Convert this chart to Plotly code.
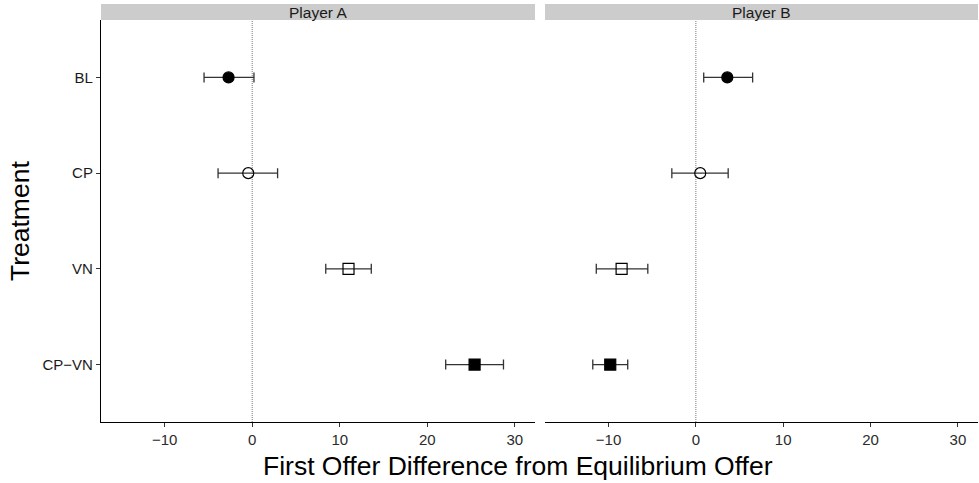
import plotly.graph_objects as go

# Treatment categories (top to bottom as displayed)
treatments = ["BL", "CP", "VN", "CP\u2212VN"]

# Player A: mean difference and confidence bounds
a_mean = [-2.7, -0.45, 11.0, 25.4]
a_low = [-5.5, -3.9, 8.4, 22.1]
a_high = [0.2, 2.9, 13.6, 28.7]

# Player B: mean difference and confidence bounds
b_mean = [3.6, 0.5, -8.5, -9.8]
b_low = [0.9, -2.75, -11.4, -11.8]
b_high = [6.5, 3.7, -5.5, -7.8]

panels = ["Player A", "Player B"]
tick_vals = [-10, 0, 10, 20, 30]

symbols = {"BL": "circle", "CP": "circle-open", "VN": "square-open", "CP\u2212VN": "square"}

FONT = "Liberation Sans, Arial"
W, H = 979, 483
fig = go.Figure()

data = [(a_mean, a_low, a_high), (b_mean, b_low, b_high)]
for p, (mean, low, high) in enumerate(data):
    xa = "x" if p == 0 else "x2"
    for i, t in enumerate(treatments):
        fig.add_trace(go.Scatter(
            x=[mean[i]], y=[t], xaxis=xa, yaxis="y",
            mode="markers",
            marker=dict(symbol=symbols[t], size=11, color="black",
                        line=dict(color="black", width=1.2)),
            error_x=dict(type="data", symmetric=False,
                         array=[high[i] - mean[i]], arrayminus=[mean[i] - low[i]],
                         color="#333333", thickness=1.3, width=5),
            showlegend=False, hoverinfo="skip",
        ))

# pixel -> paper helpers
def px(x):
    return x / W

def py(y):
    return 1 - y / H

top, bottom = 20, 422
ydom = [py(bottom), py(top)]
axis_common = dict(
    range=[-17.27, 32.3], tickvals=tick_vals, ticks="outside", ticklen=4,
    tickcolor="#333333", tickwidth=1, showgrid=False, zeroline=False,
    showline=True, linecolor="black", linewidth=1.2,
    tickfont=dict(family=FONT, size=15, color="#2b2b2b"),
)
fig.update_layout(
    width=W, height=H, margin=dict(l=0, r=0, t=0, b=0),
    plot_bgcolor="white", paper_bgcolor="white",
    xaxis=dict(domain=[px(101), px(535)], anchor="y", **axis_common),
    xaxis2=dict(domain=[px(545), px(978)], anchor="y", **axis_common),
    yaxis=dict(
        domain=ydom, type="category",
        categoryorder="array", categoryarray=treatments[::-1],
        range=[-0.6, 3.6], ticks="outside", ticklen=4, tickcolor="#333333",
        showline=True, linecolor="black", linewidth=1.2, showgrid=False,
        zeroline=False,
        tickfont=dict(family=FONT, size=15, color="#1a1a1a"),
    ),
)

# Zero reference lines in each panel
for xr in ["x", "x2"]:
    fig.add_shape(type="line", xref=xr, yref="paper", x0=0, x1=0,
                  y0=ydom[0], y1=ydom[1],
                  line=dict(color="#777777", width=1, dash="1px,1px"), layer="below")

# Facet strips
strips = [(101, 535), (545, 978)]
for (x0, x1), name in zip(strips, panels):
    fig.add_shape(type="rect", xref="paper", yref="paper",
                  x0=px(x0), x1=px(x1), y0=py(20), y1=py(4),
                  fillcolor="#cccccc", line=dict(width=0))
    fig.add_annotation(x=px((x0 + x1) / 2), y=py(12), xref="paper", yref="paper",
                       text=name, showarrow=False,
                       font=dict(family=FONT, size=15.5, color="#1a1a1a"),
                       xanchor="center", yanchor="middle")

# Axis titles
fig.add_annotation(x=px(518), y=py(466), xref="paper", yref="paper",
                   text="First Offer Difference from Equilibrium Offer",
                   showarrow=False, xanchor="center", yanchor="middle",
                   font=dict(family=FONT, size=26.5, color="black"))
fig.add_annotation(x=px(20), y=py(221), xref="paper", yref="paper",
                   text="Treatment", textangle=-90,
                   showarrow=False, xanchor="center", yanchor="middle",
                   font=dict(family=FONT, size=26.5, color="black"))

fig.write_html("out.html")
